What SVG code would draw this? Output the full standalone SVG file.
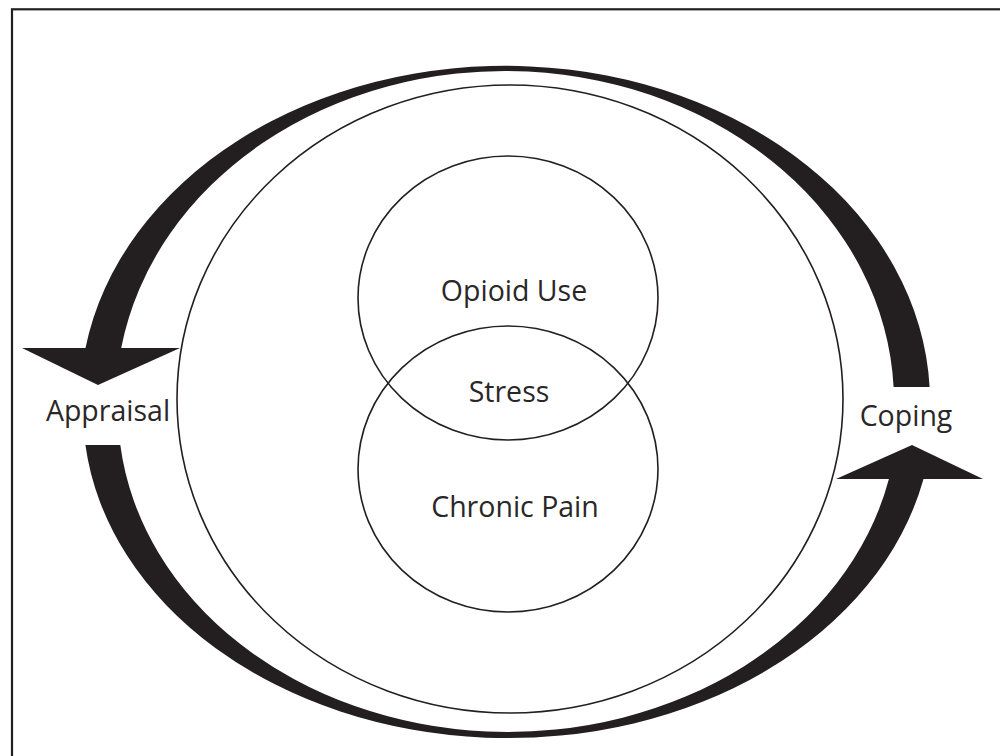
<svg xmlns="http://www.w3.org/2000/svg" width="1000" height="756" viewBox="0 0 1000 756">
  <style>
    .line { fill: none; stroke: #231f20; stroke-width: 1.6; }
    .arrow { fill: #231f20; stroke: none; }
    .label { font-family: "Open Sans", "Liberation Sans", sans-serif; font-size: 28.5px; fill: #2a2728; text-anchor: middle; }
  </style>
  <rect x="0" y="0" width="1000" height="756" fill="#ffffff"/>
  <rect x="12" y="9.3" width="1000" height="800" fill="none" stroke="#231f20" stroke-width="2.2"/>

  <g id="outer-circle">
    <ellipse class="line" cx="510" cy="399" rx="333" ry="314"/>
  </g>
  <g id="opioid-use">
    <ellipse class="line" cx="508" cy="298" rx="150" ry="142"/>
    <text class="label" x="514" y="301">Opioid Use</text>
  </g>
  <g id="chronic-pain">
    <ellipse class="line" cx="508" cy="469" rx="150" ry="143"/>
    <text class="label" x="515" y="517">Chronic Pain</text>
  </g>
  <g id="stress">
    <text class="label" x="509" y="402">Stress</text>
  </g>
  <g id="appraisal">
    <text class="label" x="108" y="421">Appraisal</text>
  </g>
  <g id="coping">
    <text class="label" x="906" y="426">Coping</text>
  </g>

  <g id="connectors">
    <path class="arrow" d="M 929.6 387 A 425 336 0 0 0 85.5 348 L 121.2 348 A 389 331 0 0 1 893.6 387 Z"/>
    <polygon class="arrow" points="22,348 180,348 98,385"/>
    <path class="arrow" d="M 85.4 445 A 425 328 0 0 0 923.5 479 L 888.9 479 A 390 322 0 0 1 120.3 445 Z"/>
    <polygon class="arrow" points="836,479 983,479 912,445"/>
  </g>
</svg>
